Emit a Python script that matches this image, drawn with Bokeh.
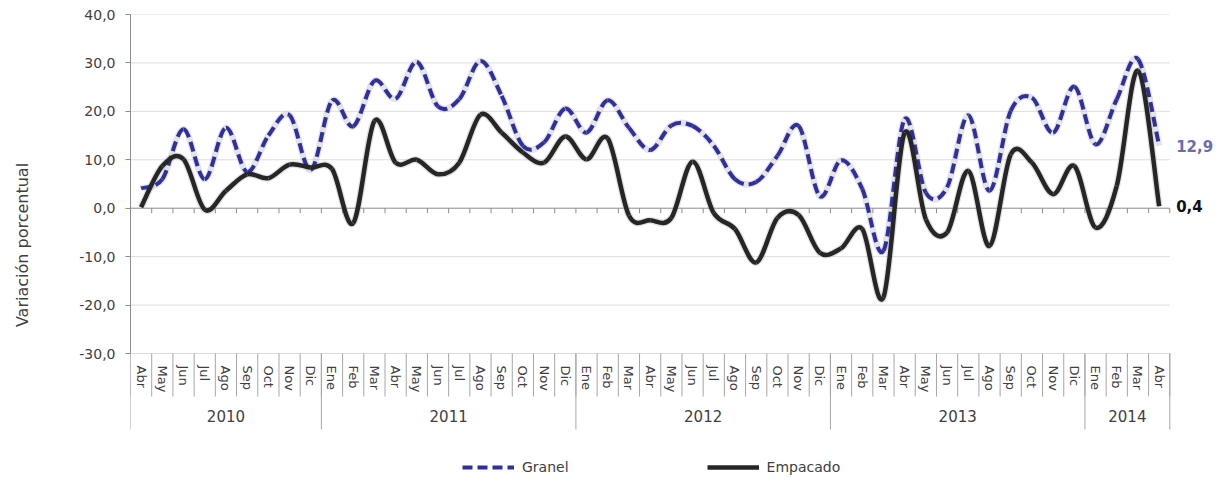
from bokeh.plotting import figure
from bokeh.models import FixedTicker, LinearAxis, Range1d, Legend, LegendItem
from bokeh.embed import file_html
from bokeh.resources import INLINE
from bokeh.core.properties import value

# ---------------- data ----------------
months = ["Abr", "May", "Jun", "Jul", "Ago", "Sep", "Oct", "Nov", "Dic",
          "Ene", "Feb", "Mar", "Abr", "May", "Jun", "Jul", "Ago", "Sep", "Oct", "Nov", "Dic",
          "Ene", "Feb", "Mar", "Abr", "May", "Jun", "Jul", "Ago", "Sep", "Oct", "Nov", "Dic",
          "Ene", "Feb", "Mar", "Abr", "May", "Jun", "Jul", "Ago", "Sep", "Oct", "Nov", "Dic",
          "Ene", "Feb", "Mar", "Abr"]
years = ["2010", "2011", "2012", "2013", "2014"]
year_counts = [9, 12, 12, 12, 4]

granel = [4.1, 6.0, 16.3, 6.0, 16.6, 7.5, 15.0, 19.2, 7.9,
          22.2, 16.9, 26.3, 22.6, 30.2, 21.0, 22.5, 30.4, 23.2, 12.9, 13.6, 20.6,
          15.6, 22.3, 16.6, 12.0, 17.1, 17.0, 12.9, 6.0, 5.4, 10.8, 17.0, 2.5,
          9.9, 4.0, -8.8, 18.4, 3.2, 4.3, 19.2, 3.6, 20.1, 22.8, 15.6, 25.1,
          13.2, 22.5, 30.8, 12.9]
empacado = [0.2, 8.7, 10.1, -0.3, 3.6, 7.0, 6.2, 9.0, 8.4,
            8.1, -3.1, 18.0, 9.4, 10.0, 7.0, 9.4, 19.3, 15.6, 11.5, 9.4, 14.8,
            10.1, 14.4, -1.5, -2.5, -2.0, 9.6, -1.0, -4.3, -11.2, -2.0, -1.4, -9.2,
            -8.3, -4.3, -18.4, 15.6, -2.3, -5.0, 7.7, -7.8, 11.1, 9.4, 2.9, 8.7,
            -4.0, 4.6, 28.4, 0.4]
y_ticks = [-30, -20, -10, 0, 10, 20, 30, 40]

# ---------------- layout constants ----------------
PX_CAT = 21.21
PX_UNIT = 339 / 70
FRAME_W = 1085
FRAME_H = 461
n = len(months)
xs = list(range(n))
x_start = -0.5
x_end = -0.5 + FRAME_W / PX_CAT
y_top = 40
y_bot = y_top - FRAME_H / PX_UNIT
y_min_tick = min(y_ticks)

FONT = "DejaVu Sans"
TXT = "#404040"
AXC = "#8C8C8C"
GRIDC = "#DEDEDE"

p = figure(frame_width=FRAME_W, frame_height=FRAME_H,
           x_range=Range1d(x_start, x_end), y_range=Range1d(y_bot, y_top),
           output_backend="svg", toolbar_location=None, x_axis_location=None,
           min_border_left=130, min_border_right=0, min_border_top=14, min_border_bottom=0)
p.outline_line_color = None
p.xgrid.visible = False
p.ygrid.visible = False
p.background_fill_color = "white"

# y axis
ya = p.yaxis[0]
ya.ticker = FixedTicker(ticks=y_ticks)
ya.bounds = (y_min_tick, y_top)
ya.major_label_overrides = {t: f"{t:.1f}".replace(".", ",") for t in y_ticks}
ya.major_label_text_font = FONT
ya.major_label_text_font_size = "14px"
ya.major_label_text_color = TXT
ya.major_label_standoff = 10
ya.axis_line_color = AXC
ya.major_tick_line_color = AXC
ya.major_tick_out = 5
ya.major_tick_in = 0
ya.minor_tick_line_color = None
ya.axis_label = "Variación porcentual"
ya.axis_label_text_font = FONT
ya.axis_label_text_font_size = "16px"
ya.axis_label_text_font_style = "normal"
ya.axis_label_text_color = TXT
ya.axis_label_standoff = 44

# gridlines
gy = [t for t in y_ticks if t != 0]
p.segment(x0=[x_start] * len(gy), x1=[n - 0.5] * len(gy), y0=gy, y1=gy,
          line_color=GRIDC, line_width=1)

# category axis at zero with boundary ticks
bounds_x = [i - 0.5 for i in range(n + 1)]
p.segment(x0=[x_start], x1=[n - 0.5], y0=[0], y1=[0], line_color=AXC, line_width=1)
tick_len = 5 / PX_UNIT
p.segment(x0=bounds_x[1:], x1=bounds_x[1:], y0=[0] * n, y1=[-tick_len] * n,
          line_color=AXC, line_width=1)

# separators in label area
m_depth = y_min_tick - 43 / PX_UNIT
y_depth = y_min_tick - 76 / PX_UNIT
p.segment(x0=bounds_x, x1=bounds_x, y0=[y_min_tick] * len(bounds_x), y1=[m_depth] * len(bounds_x),
          line_color="#A6A6A6", line_width=1)
ybounds = [-0.5]
acc = 0
centers = []
for c in year_counts:
    centers.append(acc + (c - 1) / 2)
    acc += c
    ybounds.append(acc - 0.5)
p.segment(x0=ybounds, x1=ybounds, y0=[y_min_tick] * len(ybounds), y1=[y_depth] * len(ybounds),
          line_color="#A6A6A6", line_width=1)

# month labels axis
ma = LinearAxis(fixed_location=y_min_tick, ticker=FixedTicker(ticks=xs))
ma.major_label_overrides = {i: m for i, m in enumerate(months)}
ma.major_label_orientation = "vertical"
ma.major_label_text_font = FONT
ma.major_label_text_font_size = "13px"
ma.major_label_text_color = TXT
ma.major_label_standoff = 12
ma.axis_line_color = None
ma.major_tick_line_color = None
ma.minor_tick_line_color = None
ma.major_tick_out = 0
ma.major_tick_in = 0
p.add_layout(ma, "below")

# year labels axis
yra = LinearAxis(fixed_location=y_min_tick, ticker=FixedTicker(ticks=centers))
yra.major_label_overrides = {c: yv for c, yv in zip(centers, years)}
yra.major_label_text_font = FONT
yra.major_label_text_font_size = "15px"
yra.major_label_text_color = TXT
yra.major_label_standoff = 56
yra.axis_line_color = None
yra.major_tick_line_color = None
yra.minor_tick_line_color = None
yra.major_tick_out = 0
yra.major_tick_in = 0
p.add_layout(yra, "below")


def smooth(ys):
    k = len(ys)
    out = dict(x0=[], y0=[], x1=[], y1=[], cx0=[], cy0=[], cx1=[], cy1=[])
    for i in range(k - 1):
        pm = max(i - 1, 0)
        pp = min(i + 2, k - 1)
        out["x0"].append(i); out["y0"].append(ys[i])
        out["x1"].append(i + 1); out["y1"].append(ys[i + 1])
        out["cx0"].append(i + (i + 1 - pm) / 6); out["cy0"].append(ys[i] + (ys[i + 1] - ys[pm]) / 6)
        out["cx1"].append(i + 1 - (pp - i) / 6); out["cy1"].append(ys[i + 1] - (ys[pp] - ys[i]) / 6)
    return out


sg = smooth(granel)
se = smooth(empacado)

# soft shadows
p.bezier(**sg, line_color="#B8B8C8", line_alpha=0.4, line_width=6.5)
p.bezier(**se, line_color="#A0A0A0", line_alpha=0.3, line_width=7)

r_g = p.bezier(**sg, line_color="#30309C", line_width=4, line_dash="10 5")
r_e = p.bezier(**se, line_color="#262626", line_width=4.5)

# end data labels
p.text(x=[n - 1], y=[granel[-1]], text=[f"{granel[-1]:.1f}".replace(".", ",")],
       x_offset=17, text_baseline="middle", text_align="left",
       text_font=value(FONT), text_font_style="bold", text_font_size="15px", text_color="#6B6BB0")
p.text(x=[n - 1], y=[empacado[-1]], text=[f"{empacado[-1]:.1f}".replace(".", ",")],
       x_offset=17, text_baseline="middle", text_align="left",
       text_font=value(FONT), text_font_style="bold", text_font_size="15px", text_color="#111111")

legend = Legend(items=[LegendItem(label="Granel", renderers=[r_g]),
                       LegendItem(label="Empacado", renderers=[r_e])],
                orientation="horizontal", location=(332, 0),
                border_line_color=None, background_fill_alpha=0,
                padding=0, margin=0, spacing=138, glyph_width=52, glyph_height=14,
                label_height=14, label_standoff=8,
                label_text_font=FONT, label_text_font_size="14px", label_text_color=TXT)
p.add_layout(legend, "center")

open("out.html", "w").write(file_html(p, INLINE))
